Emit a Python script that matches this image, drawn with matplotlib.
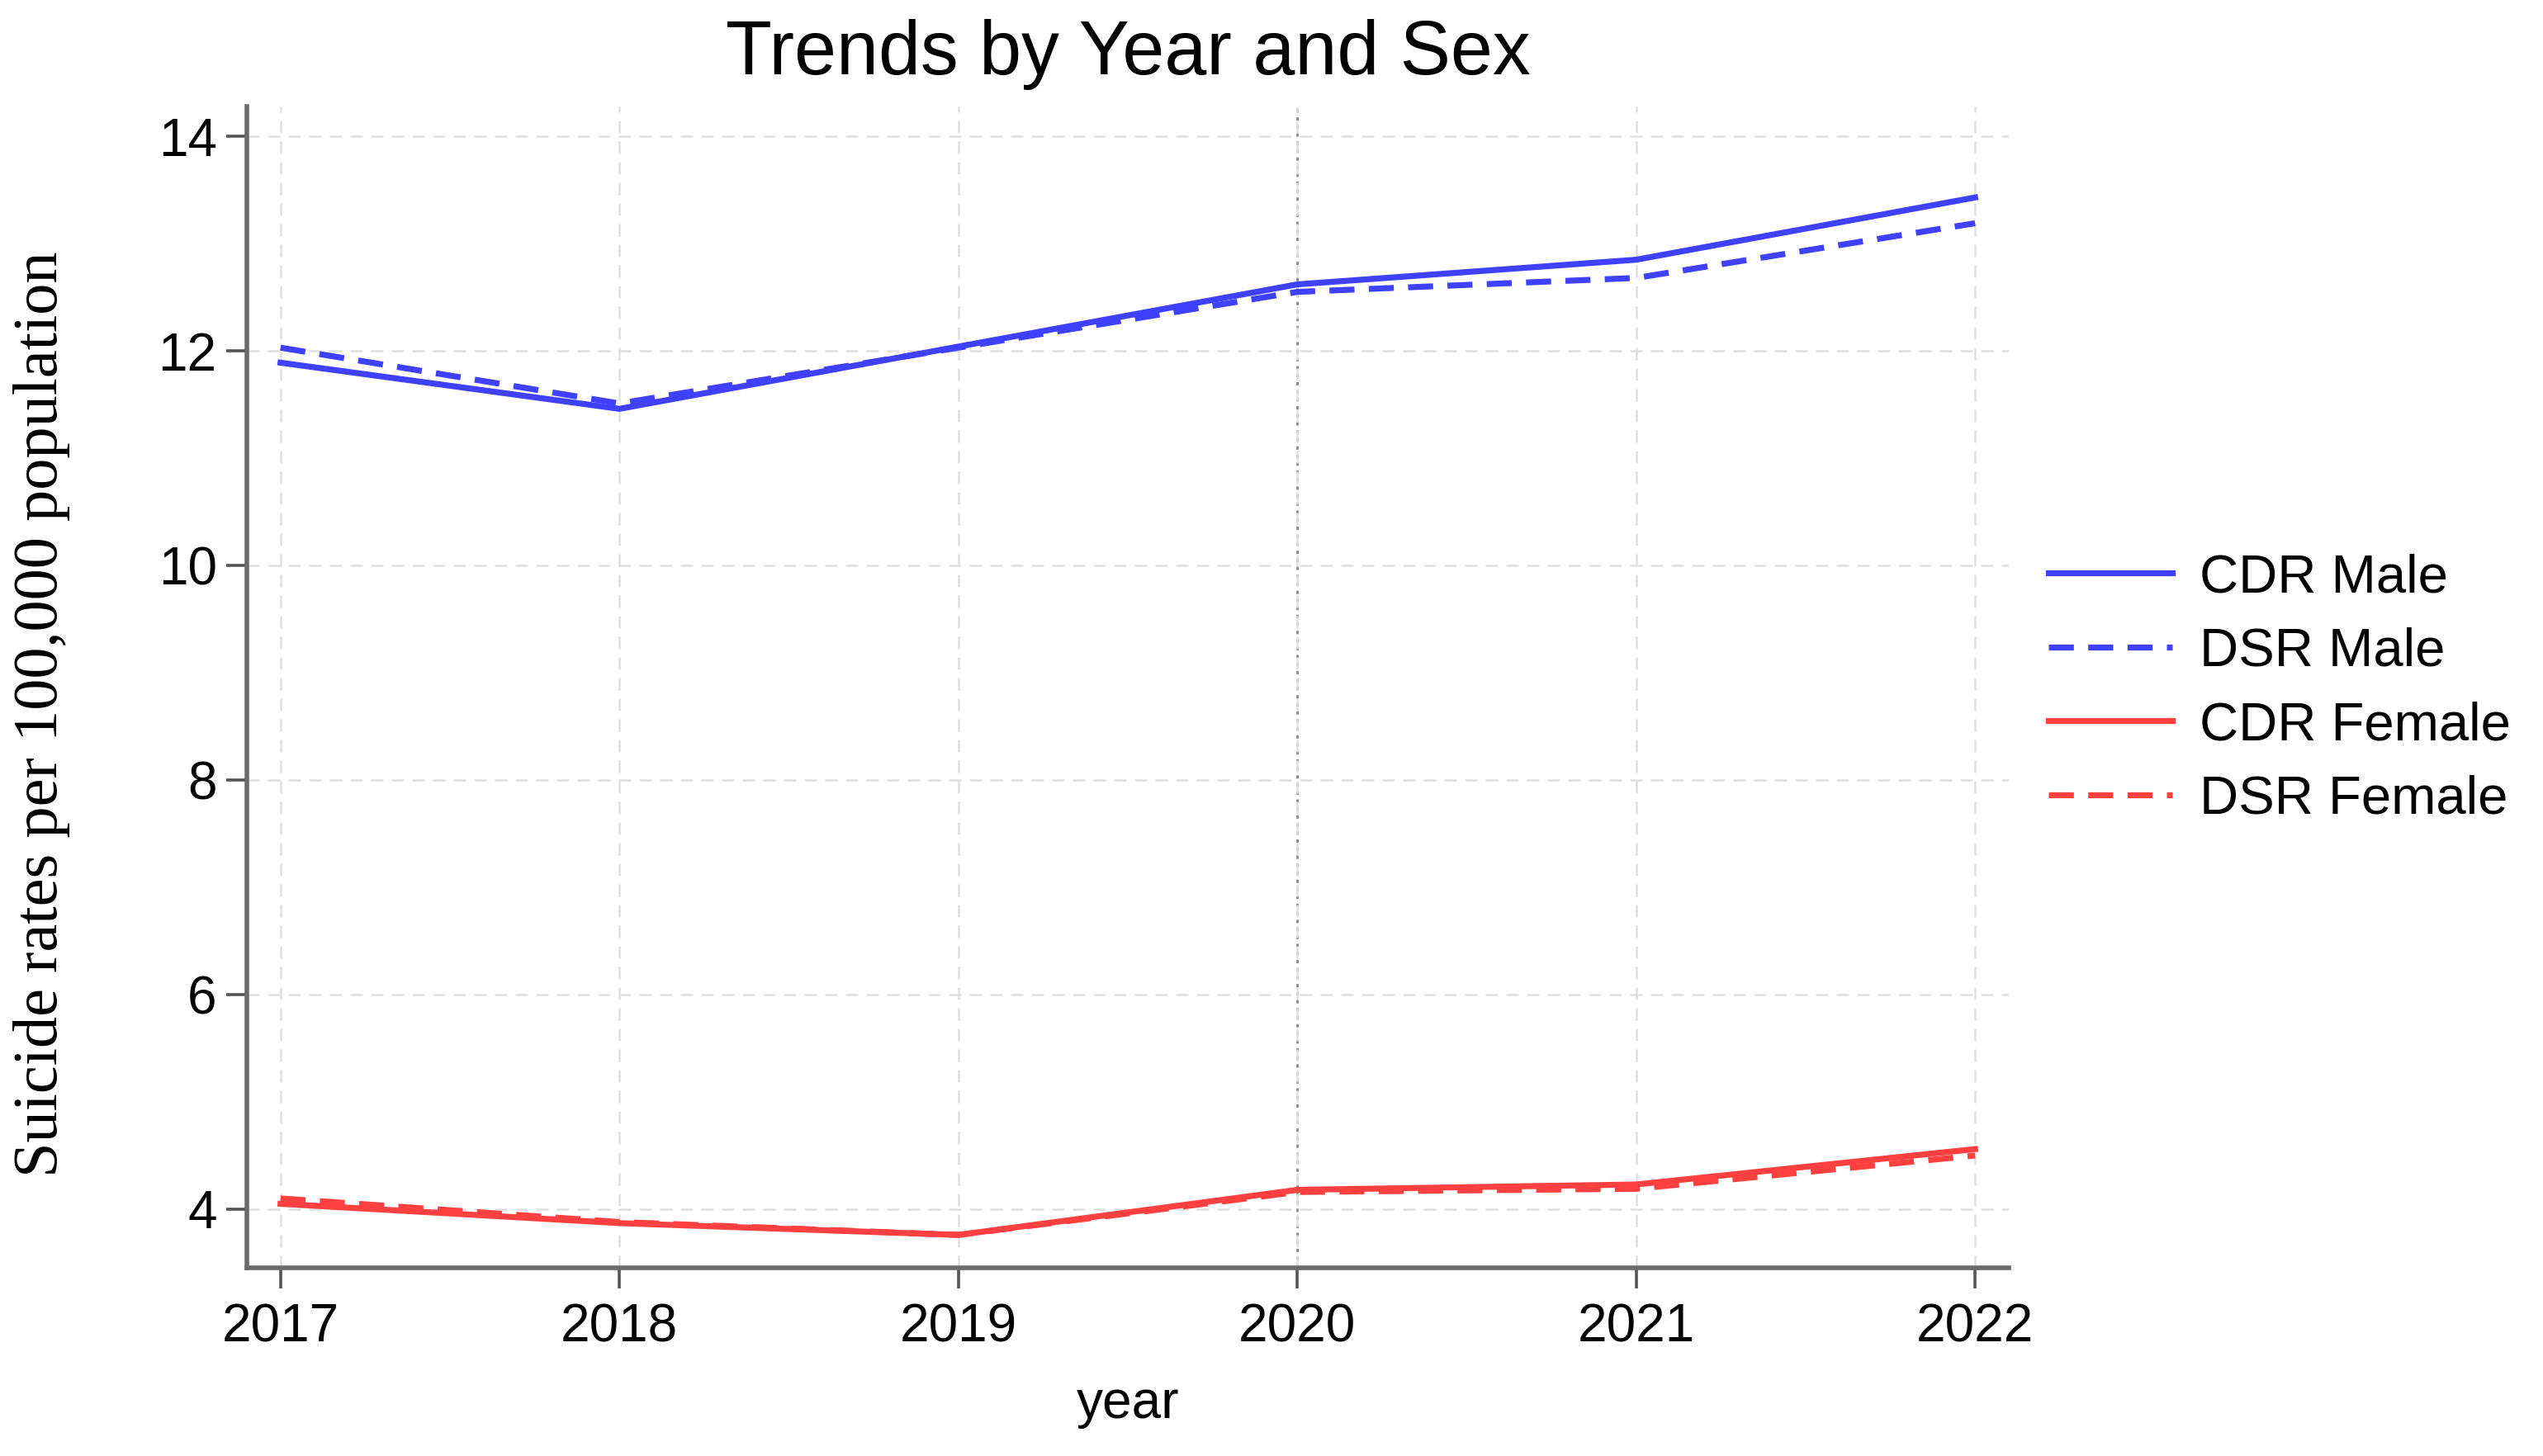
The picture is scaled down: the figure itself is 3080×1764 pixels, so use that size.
import numpy as np
import matplotlib
matplotlib.use("Agg")
import matplotlib.pyplot as plt

# values
years = [2017, 2018, 2019, 2020, 2021, 2022]
cdr_male = [11.89, 11.46, 12.04, 12.62, 12.85, 13.43]
dsr_male = [12.03, 11.51, 12.03, 12.55, 12.68, 13.19]
cdr_female = [4.05, 3.87, 3.76, 4.18, 4.23, 4.56]
dsr_female = [4.10, 3.88, 3.76, 4.16, 4.19, 4.50]
series_labels = ["CDR Male", "DSR Male", "CDR Female", "DSR Female"]
y_ticks = [4, 6, 8, 10, 12, 14]

_blue = "#4040ff"
_red = "#ff4040"

plt.rcParams["font.family"] = ["Liberation Sans", "DejaVu Sans"]

_fig = plt.figure(figsize=(15.4, 8.82), dpi=200)
_ax = _fig.add_axes([0.097, 0.129, 0.693, 0.798])

_ax.plot(years, cdr_male, color=_blue, lw=2.6, label=series_labels[0])
_ax.plot(years, dsr_male, color=_blue, lw=2.6, dashes=(4.2, 2.4), label=series_labels[1])
_ax.plot(years, cdr_female, color=_red, lw=2.6, label=series_labels[2])
_ax.plot(years, dsr_female, color=_red, lw=2.6, dashes=(4.2, 2.4), label=series_labels[3])

_ax.axvline(2020, color="#8a8a8a", lw=1.0, ls=(0, (1.5, 2)), zorder=1)

_ax.set_xlim(2016.9, 2022.1)
_ax.set_ylim(3.45, 14.28)
_ax.set_xticks(years)
_ax.set_yticks(y_ticks)
_ax.grid(True, color="#e0e0e0", lw=0.9, ls=(0, (6, 4)), zorder=0)

for _s in ["top", "right"]:
	_ax.spines[_s].set_visible(False)
for _s in ["left", "bottom"]:
	_ax.spines[_s].set_color("#6a6a6a")
	_ax.spines[_s].set_linewidth(2.0)

_ax.tick_params(axis="both", length=9, width=1.3, color="#555555", labelsize=23)
_ax.tick_params(axis="y", pad=4)
_ax.tick_params(axis="x", pad=6)

_ax.set_title("Trends by Year and Sex", fontsize=33, pad=14)
_ax.set_xlabel("year", fontsize=23, labelpad=12)
_ax.set_ylabel("Suicide rates per 100,000 population", fontsize=27.5,
	family=["Liberation Serif", "DejaVu Serif"])
_ax.yaxis.set_label_coords(-0.1, 0.477)

_ax.legend(loc="center left", bbox_to_anchor=(0.797, 0.527), bbox_transform=_fig.transFigure,
	frameon=False, fontsize=23.5, handlelength=2.3, handletextpad=0.5,
	labelspacing=0.45, borderaxespad=0)

_fig.savefig("out.png", dpi=200)
